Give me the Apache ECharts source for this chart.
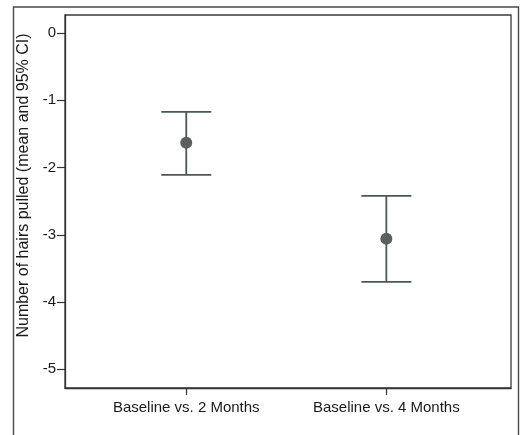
<!DOCTYPE html>
<html>
<head>
<meta charset="utf-8">
<script src="https://cdn.jsdelivr.net/npm/echarts@6/dist/echarts.min.js"></script>
<style>html,body{margin:0;padding:0;background:#fff;}#c{width:526px;height:435px;}</style>
</head>
<body>
<div id="c"></div>
<script>
var categories = ['Baseline vs. 2 Months', 'Baseline vs. 4 Months'];
var means = [-1.63, -3.06];
var ciLower = [-2.11, -3.70];
var ciUpper = [-1.17, -2.42];
var yTicks = [0, -1, -2, -3, -4, -5];
var yTitle = 'Number of hairs pulled (mean and 95% CI)';

var xPos = categories.map(function (c, i) { return i + 1; });
var barData = xPos.map(function (x, i) { return [x, ciLower[i], ciUpper[i]]; });
var pointData = xPos.map(function (x, i) { return [x, means[i]]; });

var chart = echarts.init(document.getElementById('c'), null, { renderer: 'canvas' });
var font = '"Liberation Sans", Arial, sans-serif';
chart.setOption({
  animation: false,
  backgroundColor: '#ffffff',
  grid: { left: 65, right: 15, top: 15, bottom: 47, show: true, borderColor: '#3a3a3a', borderWidth: 1.3, backgroundColor: 'transparent' },
  graphic: [{
    type: 'rect', shape: { x: 13.5, y: 7, width: 505, height: 450 },
    style: { fill: 'none', stroke: '#4a4a4a', lineWidth: 1.4 }, silent: true, z: -1
  }],
  xAxis: {
    type: 'value', min: 0.394, max: 2.623,
    splitLine: { show: false },
    axisLine: { show: true, onZero: false, lineStyle: { color: '#333', width: 1.3 } },
    axisTick: { show: true, length: 7, customValues: xPos, lineStyle: { color: '#333', width: 1.2 } },
    axisLabel: {
      customValues: xPos, margin: 12, fontFamily: font, fontSize: 15, color: '#1a1a1a',
      formatter: function (v) { return categories[Math.round(v) - 1] || ''; }
    }
  },
  yAxis: {
    type: 'value', min: -5.28, max: 0.27,
    name: yTitle, nameLocation: 'middle', nameGap: 31,
    nameTextStyle: { fontFamily: font, fontSize: 16, color: '#1a1a1a', padding: [0, 0, 0, 32] },
    splitLine: { show: false },
    axisLine: { show: true, lineStyle: { color: '#333', width: 1.3 } },
    axisTick: { show: true, length: 8, customValues: yTicks, lineStyle: { color: '#333', width: 1.2 } },
    axisLabel: { customValues: yTicks, margin: 9, fontFamily: font, fontSize: 15, color: '#1a1a1a' }
  },
  series: [{
    type: 'custom',
    data: barData,
    encode: { x: 0, y: [1, 2] },
    renderItem: function (params, api) {
      var x = api.value(0);
      var lo = api.coord([x, api.value(1)]);
      var hi = api.coord([x, api.value(2)]);
      var hw = 25;
      var st = { stroke: '#4a5753', lineWidth: 1.8 };
      return {
        type: 'group',
        children: [
          { type: 'line', shape: { x1: lo[0], y1: lo[1], x2: hi[0], y2: hi[1] }, style: st },
          { type: 'line', shape: { x1: lo[0] - hw, y1: lo[1], x2: lo[0] + hw, y2: lo[1] }, style: st },
          { type: 'line', shape: { x1: hi[0] - hw, y1: hi[1], x2: hi[0] + hw, y2: hi[1] }, style: st }
        ]
      };
    },
    z: 2
  }, {
    type: 'scatter',
    data: pointData,
    symbol: 'circle', symbolSize: 12,
    itemStyle: { color: '#5b605e', opacity: 1 },
    z: 3
  }]
});
</script>
</body>
</html>
